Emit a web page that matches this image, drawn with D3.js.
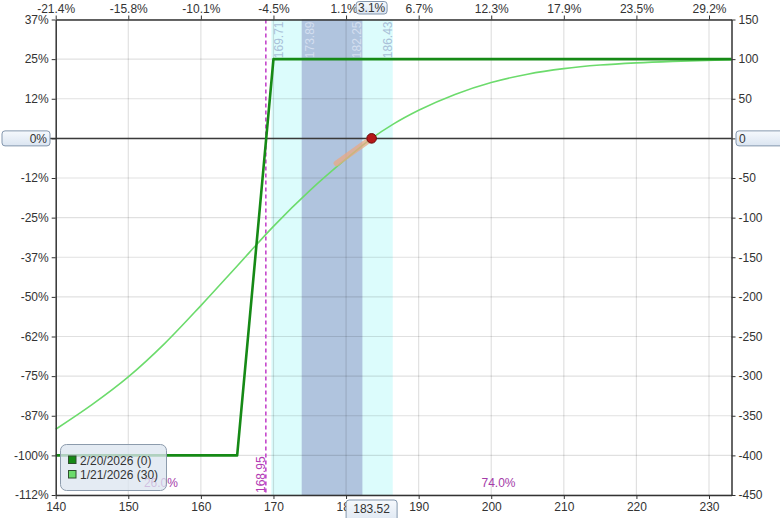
<!DOCTYPE html>
<html>
<head>
<meta charset="utf-8">
<script src="https://cdn.jsdelivr.net/npm/d3@7"></script>
<style>
  html, body { margin: 0; padding: 0; background: #ffffff; }
  svg { display: block; font-family: "Liberation Sans", Arial, sans-serif; }
</style>
</head>
<body>
<svg id="chart" width="780" height="518"></svg>
<script>
// ---------------- data ----------------
const xTicks = [140, 150, 160, 170, 180, 190, 200, 210, 220, 230];
const topTickLabels = ["-21.4%", "-15.8%", "-10.1%", "-4.5%", "1.1%", "6.7%", "12.3%", "17.9%", "23.5%", "29.2%"];
const yTicks = [150, 100, 50, 0, -50, -100, -150, -200, -250, -300, -350, -400, -450];
const leftTickLabels = ["37%", "25%", "12%", "0%", "-12%", "-25%", "-37%", "-50%", "-62%", "-75%", "-87%", "-100%", "-112%"];
const rightTickLabels = ["150", "100", "50", "0", "-50", "-100", "-150", "-200", "-250", "-300", "-350", "-400", "-450"];

const xDomain = [140, 233.1];
const yDomain = [-450, 150];

// Expiration P/L (2/20/2026, 0 days)
const expX = [140, 165, 170, 233.1];
const expY = [-400, -400, 100, 100];

// T+30 P/L (1/21/2026, 30 days)
const t30X = [140, 145, 150, 155, 160, 165, 170, 175, 180, 183.52, 186.5, 190, 195, 200, 205, 210, 215, 220, 225, 233.1];
const t30Y = [-367, -336, -301, -259, -211, -161, -111, -66, -26, 0, 18, 35.5, 55.5, 70.5, 81, 88, 92.5, 95.3, 97.2, 99.2];

const seriesNames = ["2/20/2026 (0)", "1/21/2026 (30)"];
const seriesColors = ["#168a16", "#6cdb6c"];

const outerBand = [169.71, 186.43];
const innerBand = [173.89, 182.25];
const bandLabels = ["169.71", "173.89", "182.25", "186.43"];

const breakeven = 168.95;
const breakevenLabel = "168.95";

const currentPrice = 183.52;
const currentPriceLabel = "183.52";
const currentPctLabel = "3.1%";
const currentPL = 0;

const deltaX = [178.7, 183.52];
const deltaY = [-31.5, 0];

const probX = [154.5, 201];
const probLabels = ["26.0%", "74.0%"];

// ---------------- layout ----------------
const svg = d3.select("#chart");
const L = 55.7, R = 731.5, T = 19.5, B = 495;
const x = d3.scaleLinear().domain(xDomain).range([L, R]);
const y = d3.scaleLinear().domain(yDomain).range([B, T]);

const defs = svg.append("defs");
const grad = defs.append("linearGradient").attr("id", "boxGrad").attr("x1", 0).attr("y1", 0).attr("x2", 0).attr("y2", 1);
grad.append("stop").attr("offset", "0%").attr("stop-color", "#f6f9fd");
grad.append("stop").attr("offset", "100%").attr("stop-color", "#dbe5f1");

// bands
svg.append("rect").attr("x", x(outerBand[0])).attr("y", T).attr("width", x(outerBand[1]) - x(outerBand[0])).attr("height", B - T).attr("fill", "#dcfcfc");
svg.append("rect").attr("x", x(innerBand[0])).attr("y", T).attr("width", x(innerBand[1]) - x(innerBand[0])).attr("height", B - T).attr("fill", "#b0c4de");

// grid
const grid = svg.append("g");
grid.selectAll("line.h").data(yTicks).enter().append("line")
  .attr("x1", L).attr("x2", R).attr("y1", d => y(d)).attr("y2", d => y(d))
  .attr("stroke", "#000").attr("stroke-opacity", 0.12).attr("stroke-width", 1.2);
grid.selectAll("line.v").data(xTicks.slice(1)).enter().append("line")
  .attr("y1", T).attr("y2", B).attr("x1", d => x(d)).attr("x2", d => x(d))
  .attr("stroke", "#000").attr("stroke-opacity", 0.12).attr("stroke-width", 1.2);

// band labels (rotated)
const bandVals = [outerBand[0], innerBand[0], innerBand[1], outerBand[1]];
const bandColors = ["#a9c0d8", "#d4dff0", "#d4dff0", "#a9c0d8"];
bandVals.forEach((v, i) => {
  const left = (i < 2);
  const bx = left ? x(v) + 12 : x(v) - 1;
  svg.append("text")
    .attr("transform", `translate(${bx},${T + 2}) rotate(-90)`)
    .attr("text-anchor", "end")
    .attr("font-size", 12)
    .attr("fill", bandColors[i])
    .text(bandLabels[i]);
});

// breakeven dashed line
svg.append("line").attr("x1", x(breakeven)).attr("x2", x(breakeven)).attr("y1", T).attr("y2", B)
  .attr("stroke", "#c13bc8").attr("stroke-width", 1.5).attr("stroke-dasharray", "4,3");
svg.append("text")
  .attr("transform", `translate(${x(breakeven) - 1},${B - 2}) rotate(-90)`)
  .attr("text-anchor", "start").attr("font-size", 12).attr("fill", "#b33ab3")
  .text(breakevenLabel);

// probability labels
probX.forEach((v, i) => {
  svg.append("text").attr("x", x(v)).attr("y", 487).attr("text-anchor", "middle")
    .attr("font-size", 12).attr("fill", "#a43aa8").text(probLabels[i]);
});

// zero line
svg.append("line").attr("x1", 50).attr("x2", R).attr("y1", y(0)).attr("y2", y(0))
  .attr("stroke", "#3a3a3a").attr("stroke-width", 1.5);

// series lines
const t30Data = t30X.map((v, i) => [v, t30Y[i]]);
const expData = expX.map((v, i) => [v, expY[i]]);
svg.append("path").attr("d", d3.line().x(d => x(d[0])).y(d => y(d[1])).curve(d3.curveMonotoneX)(t30Data))
  .attr("fill", "none").attr("stroke", seriesColors[1]).attr("stroke-width", 1.6);
svg.append("path").attr("d", d3.line().x(d => x(d[0])).y(d => y(d[1]))(expData))
  .attr("fill", "none").attr("stroke", seriesColors[0]).attr("stroke-width", 2.6).attr("stroke-linejoin", "round");

// delta segment
svg.append("line").attr("x1", x(deltaX[0])).attr("y1", y(deltaY[0])).attr("x2", x(deltaX[1])).attr("y2", y(deltaY[1]))
  .attr("stroke", "#e9a884").attr("stroke-opacity", 0.75).attr("stroke-width", 6).attr("stroke-linecap", "round");

// current marker
svg.append("circle").attr("cx", x(currentPrice)).attr("cy", y(currentPL)).attr("r", 4.8)
  .attr("fill", "#b51818").attr("stroke", "#6a0a0a").attr("stroke-width", 1);

// axes
const axStyle = g => {
  g.select(".domain").attr("stroke", "#333").attr("stroke-width", 1.5);
  g.selectAll(".tick line").attr("stroke", "#333");
  g.selectAll(".tick text").attr("fill", "#333").attr("font-size", 12)
    .attr("font-family", "'Liberation Sans', Arial, sans-serif");
};
svg.append("g").attr("transform", `translate(0,${B})`)
  .call(d3.axisBottom(x).tickValues(xTicks).tickFormat(d => String(d)).tickSize(4).tickSizeOuter(0).tickPadding(3))
  .call(axStyle);
const topAx = svg.append("g").attr("transform", `translate(0,${T})`)
  .call(d3.axisTop(x).tickValues(xTicks).tickFormat((d, i) => topTickLabels[i]).tickSize(4).tickSizeOuter(0).tickPadding(3))
  .call(axStyle);
// nudge the label that collides with the current-price box
topAx.selectAll(".tick text").filter(d => d === 180).attr("dx", -2.5);
svg.append("g").attr("transform", `translate(${L},0)`)
  .call(d3.axisLeft(y).tickValues(yTicks).tickFormat((d, i) => d === 0 ? "" : leftTickLabels[i]).tickSize(4).tickSizeOuter(0).tickPadding(3))
  .call(axStyle);
svg.append("g").attr("transform", `translate(${R},0)`)
  .call(d3.axisRight(y).tickValues(yTicks).tickFormat((d, i) => d === 0 ? "" : rightTickLabels[i]).tickSize(4).tickSizeOuter(0).tickPadding(3))
  .call(axStyle);

// value boxes
function box(bx, by, w, h, txt, anchor, tx, ty) {
  const g = svg.append("g");
  g.append("rect").attr("x", bx).attr("y", by).attr("width", w).attr("height", h).attr("rx", 3)
    .attr("fill", "url(#boxGrad)").attr("stroke", "#8497ae").attr("stroke-width", 1);
  g.append("text").attr("x", tx).attr("y", ty).attr("text-anchor", anchor)
    .attr("font-size", 12).attr("fill", "#333").text(txt);
}
box(2, y(0) - 7.5, 48, 15, leftTickLabels[3], "end", 47, y(0) + 4.3);
box(736, y(0) - 7.5, 60, 15, rightTickLabels[3], "start", 739, y(0) + 4.3);
box(x(currentPrice) - 15.5, 1.5, 31, 12.5, currentPctLabel, "middle", x(currentPrice), 12);
box(x(currentPrice) - 25.5, 500, 51, 24, currentPriceLabel, "middle", x(currentPrice), 513);

// legend
const lg = svg.append("g");
lg.append("rect").attr("x", 60.5).attr("y", 444.5).attr("width", 106).attr("height", 46).attr("rx", 6)
  .attr("fill", "#dde6f0").attr("fill-opacity", 0.78).attr("stroke", "#8c9bac").attr("stroke-width", 1);
seriesNames.forEach((n, i) => {
  const yy = 456 + i * 14.5;
  lg.append("rect").attr("x", 68.5).attr("y", yy).attr("width", 7.5).attr("height", 7.5)
    .attr("fill", seriesColors[i]).attr("stroke", "#2f4f2f").attr("stroke-width", 1);
  lg.append("text").attr("x", 80).attr("y", yy + 8.5).attr("font-size", 12).attr("fill", "#333").text(n);
});
</script>
</body>
</html>
